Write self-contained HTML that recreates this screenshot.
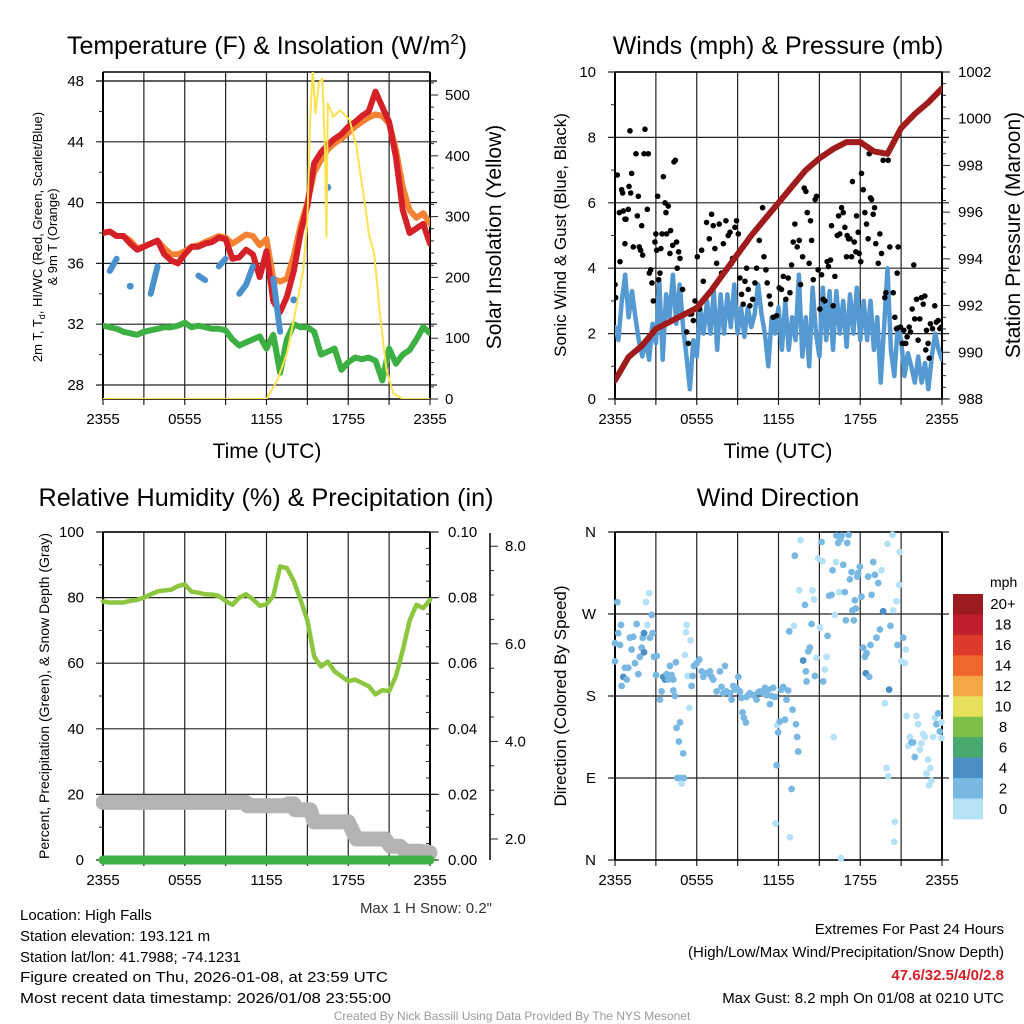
<!DOCTYPE html>
<html><head><meta charset="utf-8"><style>
html,body{margin:0;padding:0;background:#fff;}
svg{display:block;font-family:"Liberation Sans",Arial,sans-serif;}
</style></head><body>
<svg id="chart" width="1024" height="1024" viewBox="0 0 1024 1024" xmlns="http://www.w3.org/2000/svg">
<rect x="0" y="0" width="1024" height="1024" fill="#fff"/>
<defs>
<clipPath id="c1"><rect x="103" y="72" width="327" height="327"/></clipPath>
<clipPath id="c2"><rect x="615" y="72" width="327" height="327"/></clipPath>
<clipPath id="c3"><rect x="96" y="525" width="344" height="345"/></clipPath>
<clipPath id="c4"><rect x="609" y="527" width="339" height="338"/></clipPath>
</defs>
<g id="texts" font-size="15" fill="#000">
<text x="267" y="54" text-anchor="middle" font-size="25">Temperature (F) &amp; Insolation (W/m<tspan font-size="15" dy="-10">2</tspan><tspan dy="10">)</tspan></text>
<text x="778" y="54" text-anchor="middle" font-size="25">Winds (mph) &amp; Pressure (mb)</text>
<text x="266" y="506" text-anchor="middle" font-size="25" textLength="455" lengthAdjust="spacingAndGlyphs">Relative Humidity (%) &amp; Precipitation (in)</text>
<text x="778" y="506" text-anchor="middle" font-size="25">Wind Direction</text>
<text x="267" y="458" text-anchor="middle" font-size="21">Time (UTC)</text>
<text x="778" y="458" text-anchor="middle" font-size="21">Time (UTC)</text>
<text transform="translate(42,237) rotate(-90)" text-anchor="middle" font-size="13">2m T, T<tspan font-size="9" dy="3">d</tspan><tspan dy="-3">, HI/WC (Red, Green, Scarlet/Blue)</tspan></text>
<text transform="translate(57,237) rotate(-90)" text-anchor="middle" font-size="13">&amp; 9m T (Orange)</text>
<text transform="translate(501,237) rotate(-90)" text-anchor="middle" font-size="21">Solar Insolation (Yellow)</text>
<text transform="translate(566,235) rotate(-90)" text-anchor="middle" font-size="17">Sonic Wind &amp; Gust (Blue, Black)</text>
<text transform="translate(1020,235) rotate(-90)" text-anchor="middle" font-size="21">Station Pressure (Maroon)</text>
<text transform="translate(49,696) rotate(-90)" text-anchor="middle" font-size="14">Percent, Precipitation (Green), &amp; Snow Depth (Gray)</text>
<text transform="translate(566,696) rotate(-90)" text-anchor="middle" font-size="17">Direction (Colored By Speed)</text>
<text x="492" y="913" text-anchor="end" fill="#333">Max 1 H Snow: 0.2"</text>
<text x="20" y="920">Location: High Falls</text>
<text x="20" y="941">Station elevation: 193.121 m</text>
<text x="20" y="962">Station lat/lon: 41.7988; -74.1231</text>
<text x="20" y="982" textLength="368" lengthAdjust="spacingAndGlyphs">Figure created on Thu, 2026-01-08, at 23:59 UTC</text>
<text x="20" y="1003" textLength="371" lengthAdjust="spacingAndGlyphs">Most recent data timestamp: 2026/01/08 23:55:00</text>
<text x="1004" y="934" text-anchor="end">Extremes For Past 24 Hours</text>
<text x="1004" y="957" text-anchor="end">(High/Low/Max Wind/Precipitation/Snow Depth)</text>
<text x="1004" y="980" text-anchor="end" fill="#d62027" font-weight="bold">47.6/32.5/4/0/2.8</text>
<text x="1004" y="1003" text-anchor="end">Max Gust: 8.2 mph On 01/08 at 0210 UTC</text>
<text x="512" y="1020" text-anchor="middle" font-size="12" fill="#999">Created By Nick Bassill Using Data Provided By The NYS Mesonet</text>
<text x="990" y="587" font-size="14">mph</text>
</g>
</svg>
<script>
// ===== Panel 1 data (half-hourly from 2355) =====
const tempRed = [38.0,38.1,37.8,37.8,37.3,36.9,37.1,37.3,37.5,36.6,36.2,36.0,36.6,37.1,37.1,37.3,37.4,37.7,37.6,36.3,36.4,36.9,36.6,35.1,36.8,33.5,32.8,33.8,35.5,38.0,39.8,42.6,43.3,43.8,44.2,44.5,45.0,45.3,45.7,46.0,47.3,46.3,45.3,43.0,39.5,38.0,38.3,38.6,37.3];
const tempOrange = [38.0,38.1,37.8,37.8,37.5,37.0,37.1,37.3,37.5,37.0,36.6,36.6,36.8,37.1,37.2,37.4,37.6,37.8,37.7,37.3,37.6,37.9,37.8,37.2,37.6,35.0,34.8,35.0,36.5,38.5,40.0,42.0,42.8,43.5,43.9,44.2,44.6,45.0,45.3,45.6,45.8,45.7,45.2,43.5,41.0,39.5,39.0,39.3,38.6];
const tempBlue = [null,35.5,36.3,null,34.5,null,null,34.0,35.8,null,null,null,null,null,35.2,34.9,null,35.8,36.3,null,34.0,34.6,35.8,null,null,35.0,31.5,null,33.6,null,null,null,null,41.0,null,null,null,null,null,null,null,null,null,null,null,null,null,null,null];
const dewGreen = [31.9,31.8,31.7,31.5,31.4,31.3,31.5,31.6,31.7,31.8,31.8,31.9,32.1,31.8,31.9,31.8,31.7,31.7,31.6,31.0,30.6,30.8,31.0,31.2,30.4,31.3,28.8,31.0,32.0,31.8,31.8,31.5,30.0,30.2,30.4,29.0,29.5,29.8,29.7,29.8,29.6,28.3,30.4,29.4,30.0,30.3,31.0,31.8,31.4];
const insolHours = [0,12,12.8,13.5,14,14.7,15,15.2,15.4,15.6,15.85,16.1,16.3,16.4,16.5,16.9,17.4,18.1,18.6,19.4,19.5,19.9,20.3,20.8,21.3,22,24];
const insolValues = [0,0,31,75,130,212,294,459,540,470,520,527,404,267,486,464,475,459,415,294,272,240,146,48,9,0,0];
const p1TempTicks = [28,32,36,40,44,48];
const p1InsolTicks = [0,100,200,300,400,500];
const timeTickLabels = ['2355','0555','1155','1755','2355'];
// ===== Panel 2 data =====
const windSpeed = [2.2,1.8,3.0,3.8,2.5,3.3,2.5,1.8,1.3,1.8,1.2,2.3,1.7,3.6,1.2,3.2,2.5,3.8,2.3,3.5,2.2,1.3,0.3,1.8,1.3,2.8,2.0,3.0,2.0,3.3,1.5,3.2,2.0,3.2,2.2,3.5,2.0,2.8,1.9,2.8,2.2,2.6,3.5,2.6,2.0,1.0,2.5,2.0,2.8,1.5,3.0,1.5,2.5,1.8,3.8,1.3,2.5,1.0,3.4,2.0,1.3,3.4,1.8,3.3,1.5,3.3,2.0,3.0,1.6,3.2,2.0,3.4,1.8,3.0,1.8,3.0,1.5,2.5,0.5,2.2,4.0,1.5,0.7,2.2,1.8,0.7,1.4,1.0,0.5,1.3,0.5,1.1,0.3,1.3,2.0,1.5,1.2];
const gustHours = [0,.05,.17,.37,.32,.49,.56,.61,.73,.81,.73,.98,1.03,1.1,1.22,1.15,1.34,1.54,1.64,1.71,1.78,1.88,1.96,2.03,2.2,2.13,2.44,2.37,2.52,2.62,2.71,2.81,3.0,2.93,3.06,3.13,3.2,3.3,3.37,3.45,3.55,3.67,3.74,3.79,3.91,4.03,4.08,4.23,4.33,4.43,4.52,4.57,4.67,4.77,4.96,5.13,5.26,5.38,5.5,5.62,5.75,5.87,6.04,6.19,6.36,6.48,6.72,6.92,7.09,7.21,7.33,7.46,7.65,7.82,7.95,8.14,8.31,8.44,8.56,8.63,8.8,8.92,9.05,9.17,9.29,9.41,9.54,9.66,9.78,9.9,10.1,10.27,10.39,10.59,10.68,10.83,10.93,11.08,11.17,11.32,11.42,11.61,11.86,12.05,12.22,12.35,12.54,12.71,12.84,12.96,13.08,13.2,13.37,13.52,13.62,13.77,13.89,14.01,14.11,14.25,14.35,14.43,14.55,14.69,14.79,14.91,15.04,15.16,15.28,15.4,15.57,15.67,15.82,15.89,16.01,16.14,16.31,16.41,16.5,16.63,16.75,16.87,16.99,17.04,17.14,17.24,17.36,17.43,17.56,17.68,17.73,17.85,17.92,18.04,18.09,18.22,18.34,18.46,18.58,18.66,18.75,18.83,18.95,19.05,19.14,19.32,19.44,19.56,19.68,19.8,19.88,20.05,20.17,20.42,20.54,20.66,20.71,20.78,20.95,21.1,21.2,21.34,21.44,21.59,21.69,21.81,21.93,22.0,22.13,22.25,22.37,22.49,22.62,22.74,22.81,22.86,22.98,23.06,23.15,23.3,23.47,23.59,23.72,23.84,23.96];
const gustValues = [3.5,3.1,6.85,4.2,5.7,6.4,6.3,5.75,5.5,5.5,4.75,5.8,6.5,8.2,6.9,6.3,4.65,7.5,5.6,6.2,4.65,4.55,5.3,4.4,8.25,7.5,7.5,5.8,3.85,3.95,3.55,3.0,5.05,4.8,4.55,6.2,3.65,3.85,4.6,5.05,6.8,6.0,5.7,5.05,5.9,4.45,5.15,4.7,7.25,7.3,4.8,4.0,4.5,4.3,3.35,2.6,2.05,1.7,2.6,2.6,2.4,3.0,4.35,2.75,4.55,3.6,5.4,4.9,5.65,5.3,4.6,4.15,5.35,3.85,4.75,5.45,5.0,5.1,4.15,4.3,5.25,5.45,5.05,3.7,3.2,2.9,3.6,4.0,3.35,2.85,3.05,3.55,4.0,4.85,5.35,5.85,4.35,3.95,3.55,3.15,2.9,2.5,2.55,3.4,3.35,3.75,3.05,3.7,3.25,4.1,4.8,5.35,4.65,4.85,3.5,4.35,6.45,6.35,5.7,4.15,5.45,4.85,3.65,6.1,6.2,3.95,2.75,3.8,3.05,3.0,4.2,4.05,4.25,5.3,2.85,3.75,5.0,5.6,5.05,5.85,5.7,5.25,4.35,5.0,4.9,4.9,4.35,6.65,4.8,4.5,5.6,5.1,4.45,4.2,6.9,6.4,5.7,5.35,4.9,7.5,6.15,6.1,5.65,5.85,4.75,4.15,5.05,4.45,7.3,3.1,3.25,7.3,4.65,3.25,2.5,2.15,3.85,4.65,2.2,1.7,2.1,1.7,1.9,2.2,2.05,2.75,4.1,2.45,3.05,1.8,2.45,3.1,2.9,3.15,1.5,2.1,1.7,1.25,2.3,2.15,2.85,2.35,2.4,2.15,2.2];
const pressure = [988.8,989.8,990.3,991.0,991.3,991.6,991.9,992.6,993.4,994.2,995.0,995.7,996.4,997.1,997.8,998.3,998.7,999.0,999.0,998.6,998.5,999.6,1000.2,1000.7,1001.3];
const windTicks = [0,2,4,6,8,10];
const pressureTicks = [988,990,992,994,996,998,1000,1002];
// ===== Panel 3 data =====
const rhValues = [78.8,78.5,78.5,78.5,79.0,79.3,80.0,81.0,81.9,82.2,82.4,83.5,84.0,81.8,81.5,81.0,80.9,80.5,79.0,77.8,80.0,81.0,79.5,77.5,78.0,80.5,89.5,89.0,85.0,79.3,73.0,62.0,59.0,60.5,57.5,56.0,54.5,55.0,54.0,53.0,50.5,51.8,51.5,56.0,64.0,73.0,77.8,76.8,79.3];
const precipValues = [0,0,0,0,0,0,0,0,0,0,0,0,0,0,0,0,0,0,0,0,0,0,0,0,0];
const snowHours = [0,10.5,10.6,13.5,13.6,14,14.1,15.2,15.5,18,18.6,20.7,21.1,21.8,22.2,23.2,24];
const snowDepth = [2.75,2.75,2.68,2.68,2.72,2.72,2.6,2.6,2.35,2.35,2.0,2.0,1.85,1.85,1.75,1.75,1.72];
const rhTicks = [0,20,40,60,80,100];
const precipTicks = ['0.00','0.02','0.04','0.06','0.08','0.10'];
const snowTicks = [2,4,6,8];
// ===== Panel 4 data =====
const dirHours = [0,0,.17,.24,.37,.44,.49,.61,.73,.86,.98,1.1,1.22,1.34,1.47,1.59,1.71,1.83,1.96,2.03,2.13,2.13,2.27,2.37,2.52,2.57,2.69,2.76,2.86,3.06,3.01,3.3,3.42,3.55,3.67,3.79,3.91,4.03,4.16,4.28,4.28,4.4,4.47,4.52,4.77,4.69,5.01,4.57,4.77,4.89,5.06,5.13,5.21,5.26,5.33,5.45,5.55,5.62,5.7,5.79,5.99,6.19,6.36,6.48,6.72,6.97,7.09,7.21,7.46,7.7,7.82,7.95,8.07,8.19,8.44,8.56,8.68,8.8,8.92,9.05,9.17,9.29,9.36,9.46,9.61,9.66,9.78,9.9,10.15,10.39,10.51,10.64,10.88,11.0,11.12,11.25,11.37,11.49,11.61,11.74,11.78,11.86,11.91,11.98,12.1,12.22,12.35,12.47,12.59,12.71,12.84,12.96,13.03,13.2,13.28,13.37,13.45,12.79,13.13,13.52,13.62,13.81,13.94,14.01,14.06,14.18,14.3,14.43,14.5,14.6,14.67,14.79,14.91,15.04,15.16,15.23,15.28,15.4,15.53,15.6,15.72,15.89,15.97,16.06,16.14,16.21,16.26,16.38,16.45,16.55,16.63,16.75,16.87,16.94,17.04,17.14,17.24,17.36,17.43,17.53,17.6,17.68,17.78,17.85,17.97,18.09,18.22,18.34,18.41,18.46,18.58,18.66,18.75,18.83,18.95,19.07,19.19,19.32,19.44,19.56,19.68,19.8,19.93,20.0,20.05,20.12,20.22,20.37,20.42,20.54,20.49,20.66,20.73,20.86,20.9,21.03,21.15,21.27,21.34,21.39,21.52,21.64,21.76,21.88,22.0,22.13,22.25,22.37,22.49,22.62,22.74,22.86,22.98,23.06,23.15,23.23,23.35,23.47,23.59,23.72,23.84,23.96,23.96,16.58];
const dirDegrees = [238,218,283,249,236,258,191,201,211,198,211,244,231,245,216,259,204,223,233,244,249,228,283,258,293,244,269,249,223,224,203,176,185,201,198,204,198,213,203,198,186,180,217,145,151,130,117,90,90,84,90,225,250,258,202,167,241,191,202,213,216,220,207,201,205,207,201,198,185,207,190,183,213,185,183,176,191,187,189,201,185,178,162,156,151,179,181,183,181,176,184,185,183,189,181,187,171,180,189,179,40,104,148,140,152,187,190,154,176,186,25,78,165,334,149,135,119,251,257,296,351,219,280,207,196,229,233,259,296,286,202,222,331,255,349,328,196,209,223,246,290,291,318,135,269,327,356,348,294,352,356,324,294,263,348,357,308,316,274,263,285,276,311,315,322,289,233,223,205,227,311,201,236,291,327,313,244,304,253,318,273,172,101,347,92,187,257,357,274,42,20,284,236,302,338,218,244,216,231,158,125,135,129,129,113,158,149,121,128,138,135,95,110,82,101,87,135,156,149,161,141,151,134,2];
const dirSpeeds = [3,3,3,3,3,3,3,5,3,3,3,3,3,3,3,3,3,3,3,3,5,5,1,1,1,3,3,3,3,3,3,3,3,5,5,3,3,3,3,3,3,3,3,3,3,3,3,3,3,1,3,1,1,1,1,1,1,3,3,3,3,3,3,3,3,3,3,3,3,3,3,3,3,3,3,3,3,3,3,3,3,3,3,3,3,3,3,3,3,3,3,3,3,3,3,3,3,3,3,3,1,3,1,3,3,3,3,3,3,3,1,3,3,3,3,3,3,3,1,1,1,5,3,3,3,3,3,3,1,1,3,1,1,1,3,1,3,1,1,3,3,3,3,1,1,1,3,3,1,3,3,3,3,3,3,3,3,3,3,3,3,3,3,3,3,3,3,3,5,3,3,3,3,3,3,3,3,3,3,1,5,1,1,1,1,5,3,1,1,1,1,1,3,1,1,1,3,1,1,1,1,1,3,3,3,1,1,1,1,1,1,1,1,1,1,1,1,1,3,3,3,1,1,1,3];
const dirTickLabels = ['N','E','S','W','N'];
const speedBinLabels = ['20+','18','16','14','12','10','8','6','4','2','0'];
const speedBinColors = ['#9b1b1e','#bf1e2d','#dd3a2c','#f0672b','#f6a745','#e6e05a','#7cc04a','#48a86e','#4a8fc6','#7ab8e4','#b6e2f7'];

const NS = 'http://www.w3.org/2000/svg';
const svg = document.getElementById('chart');
function mk(tag, attrs, parent) {
  const e = document.createElementNS(NS, tag);
  for (const k in attrs) e.setAttribute(k, attrs[k]);
  (parent || svg).appendChild(e);
  return e;
}
function group(clip) {
  const g = document.createElementNS(NS, 'g');
  if (clip) g.setAttribute('clip-path', 'url(#' + clip + ')');
  svg.appendChild(g);
  return g;
}
const P1 = {x0:103, x1:430, y0:72, y1:399};
const P2 = {x0:615, x1:942, y0:72, y1:399};
const P3 = {x0:103, x1:430, y0:532, y1:860};
const P4 = {x0:615, x1:942, y0:532, y1:860};
function xs(P, h) { return P.x0 + h * (P.x1 - P.x0) / 24; }
function yTemp(t) { return 385 - (t - 28) * (304 / 20); }
function yInsol(w) { return 399 - w * 0.608; }
function yWind(v) { return 399 - v * 32.7; }
function yPres(p) { return 399 - (p - 988) * (327 / 14); }
function yRH(r) { return 860 - r * 3.28; }
function yPrecip(v) { return 860 - v * 3280; }
function ySnow(d) { return 839 - (d - 2) * 48.8; }
function yDir(d) { return 860 - d * (328 / 360); }

function pathFrom(xsArr, ysArr) {
  let d = '', pen = false;
  for (let i = 0; i < xsArr.length; i++) {
    if (ysArr[i] === null || isNaN(ysArr[i])) { pen = false; continue; }
    d += (pen ? 'L' : 'M') + xsArr[i].toFixed(1) + ' ' + ysArr[i].toFixed(1);
    pen = true;
  }
  return d;
}

function frame(P, name, hLines) {
  const g = group();
  
  
  for (let k = 0; k <= 8; k++) {
    const x = P.x0 + k * (P.x1 - P.x0) / 8;
    const l = mk('line', {x1:x, x2:x, y1:P.y0, y2:P.y1 + 6, stroke:'#222', 'stroke-width':1.2}, g);
    
    
  }
  hLines.forEach(y => {
    const l = mk('line', {x1:P.x0 - 7, x2:P.x1 + 7, y1:y, y2:y, stroke:'#222', 'stroke-width':1.2}, g);
    
    
  });
  const b1 = mk('line', {x1:P.x0, x2:P.x0, y1:P.y0, y2:P.y1, stroke:'#000', 'stroke-width':2}, g);
  
  
  const b2 = mk('line', {x1:P.x1, x2:P.x1, y1:P.y0, y2:P.y1, stroke:'#000', 'stroke-width':2}, g);
  
  
  const b3 = mk('line', {x1:P.x0, x2:P.x1, y1:P.y0, y2:P.y0, stroke:'#000', 'stroke-width':1.5}, g);
  
  
  const b4 = mk('line', {x1:P.x0, x2:P.x1, y1:P.y1, y2:P.y1, stroke:'#000', 'stroke-width':1.5}, g);
  
  
  timeTickLabels.forEach((lab, i) => {
    const t = mk('text', {x:P.x0 + i * (P.x1 - P.x0) / 4, y:P.y1 + 25, 'text-anchor':'middle', 'font-size':15}, g);
    t.textContent = lab;
    
    
  });
  return g;
}
function label(g, x, y, txt, anchor, name) {
  const t = mk('text', {x:x, y:y + 5, 'text-anchor':anchor, 'font-size':15}, g);
  t.textContent = txt;
  
  
}
function tick(g, x1, x2, y, name) {
  const l = mk('line', {x1:x1, x2:x2, y1:y, y2:y, stroke:'#222', 'stroke-width':1}, g);
  
  
}

const g1 = frame(P1, 'p1', [81].concat(p1TempTicks.map(yTemp)));
p1TempTicks.forEach(t => label(g1, 84, yTemp(t), String(t), 'end', 'p1-y-tick-label'));
p1TempTicks.forEach(t => { if (t < 48) tick(g1, P1.x0 - 4, P1.x0, yTemp(t + 2), 'p1-y-minor-tick'); });
for (let w = 0; w <= 520; w += 20) tick(g1, P1.x1, P1.x1 + (w % 100 === 0 ? 8 : 4), yInsol(w), 'p1-right-tick');
p1InsolTicks.forEach(w => label(g1, 445, yInsol(w), String(w), 'start', 'p1-right-tick-label'));

const g2 = frame(P2, 'p2', windTicks.map(yWind));
windTicks.forEach(v => label(g2, 596, yWind(v), String(v), 'end', 'p2-y-tick-label'));
windTicks.forEach(v => { if (v < 10) tick(g2, P2.x0 - 4, P2.x0, yWind(v + 1), 'p2-y-minor-tick'); });
for (let p = 988; p <= 1002; p += 0.5) tick(g2, P2.x1, P2.x1 + (p % 2 === 0 ? 8 : 4), yPres(p), 'p2-right-tick');
pressureTicks.forEach(p => label(g2, 958, yPres(p), String(p), 'start', 'p2-right-tick-label'));

const g3 = frame(P3, 'p3', rhTicks.map(yRH));
rhTicks.forEach(r => label(g3, 84, yRH(r), String(r), 'end', 'p3-y-tick-label'));
rhTicks.forEach(r => { if (r < 100) tick(g3, P3.x0 - 4, P3.x0, yRH(r + 10), 'p3-y-minor-tick'); });
for (let i = 0; i <= 20; i++) tick(g3, i % 4 === 0 ? P3.x1 : P3.x1 - 4, P3.x1 + (i % 4 === 0 ? 9 : 0), yPrecip(i * 0.005), 'p3-right-tick');
precipTicks.forEach(v => label(g3, 448, yPrecip(parseFloat(v)), v, 'start', 'p3-right-tick-label'));
const snowAxis = mk('line', {x1:490, x2:490, y1:533, y2:860, stroke:'#000', 'stroke-width':1.5}, g3);


for (let d = 1.5; d <= 8.5; d += 0.5) { const y = ySnow(d); if (y >= 533 && y <= 860) tick(g3, 490, 490 + (d % 2 === 0 ? 8 : 4), y, 'snow-axis-tick'); }
snowTicks.forEach(d => label(g3, 505, ySnow(d), d.toFixed(1), 'start', 'snow-axis-tick-label'));

const dirGridVals = [0, 90, 180, 270, 360];
const g4 = frame(P4, 'p4', dirGridVals.map(yDir));
dirTickLabels.forEach((lab, i) => label(g4, 596, yDir(dirGridVals[i]), lab, 'end', 'p4-y-tick-label'));

const halfHours = tempRed.map((_, i) => i * 0.5);
const s1 = group('c1');
function line(g, d, color, w, name) {
  const p = mk('path', {d:d, fill:'none', stroke:color, 'stroke-width':w, 'stroke-linejoin':'round', 'stroke-linecap':'round'}, g);
  
  
  return p;
}
line(s1, pathFrom(halfHours.map(h => xs(P1, h)), tempOrange.map(yTemp)), '#f58232', 6, 'temp-9m-orange-line');
line(s1, pathFrom(halfHours.map(h => xs(P1, h)), tempRed.map(yTemp)), '#d62027', 6, 'temp-2m-red-line');
line(s1, pathFrom(halfHours.map(h => xs(P1, h)), dewGreen.map(yTemp)), '#3cb043', 6, 'dewpoint-green-line');
line(s1, pathFrom(halfHours.map(h => xs(P1, h)), tempBlue.map(v => v === null ? null : yTemp(v))), '#4a90cc', 6, 'windchill-blue-line');
tempBlue.forEach((v, i) => {
  if (v === null) return;
  const prev = i > 0 ? tempBlue[i - 1] : null, next = i < tempBlue.length - 1 ? tempBlue[i + 1] : null;
  if (prev === null && next === null) {
    const c = mk('circle', {cx:xs(P1, halfHours[i]), cy:yTemp(v), r:3.5, fill:'#4a90cc'}, s1);
    
    
  }
});
line(s1, pathFrom(insolHours.map(h => xs(P1, h)), insolValues.map(yInsol)), '#fde14d', 2, 'insolation-yellow-line');

const s2 = group('c2');
const qHours = windSpeed.map((_, i) => i * 0.25);
line(s2, pathFrom(qHours.map(h => xs(P2, h)), windSpeed.map(yWind)), '#5599d3', 4.5, 'wind-speed-line');
gustValues.forEach((v, i) => {
  const c = mk('circle', {cx:xs(P2, gustHours[i]), cy:yWind(v), r:2.8, fill:'#000'}, s2);
  
  
});
const hourly = pressure.map((_, i) => i);
line(s2, pathFrom(hourly.map(h => xs(P2, h)), pressure.map(yPres)), '#a01c1c', 6, 'pressure-maroon-line');

const s3 = group('c3');
line(s3, pathFrom(snowHours.map(h => xs(P3, h)), snowDepth.map(ySnow)), '#b3b3b3', 15, 'snow-depth-gray-line');
line(s3, pathFrom(halfHours.map(h => xs(P3, h)), rhValues.map(yRH)), '#8cc63f', 4.5, 'relative-humidity-line');
line(s3, pathFrom(hourly.map(h => xs(P3, h)), precipValues.map(yPrecip)), '#3cb043', 9, 'precipitation-line');

const s4 = group('c4');
function speedColor(s) {
  const bin = Math.min(10, Math.floor(s / 2));
  return speedBinColors[10 - bin];
}
dirDegrees.forEach((d, i) => {
  const c = mk('circle', {cx:xs(P4, dirHours[i]), cy:yDir(d), r:3.4, fill:speedColor(dirSpeeds[i])}, s4);
  
  
});

const cb = group();


const cbH = (819 - 594) / speedBinLabels.length;
speedBinLabels.forEach((lab, i) => {
  const r = mk('rect', {x:953, y:594 + i * cbH, width:30, height:cbH + 0.5, fill:speedBinColors[i]}, cb);
  
  
  const t = mk('text', {x:1003, y:594 + i * cbH + cbH / 2 + 5, 'text-anchor':'middle', 'font-size':15}, cb);
  t.textContent = lab;
  
  
});
</script>
</body></html>
